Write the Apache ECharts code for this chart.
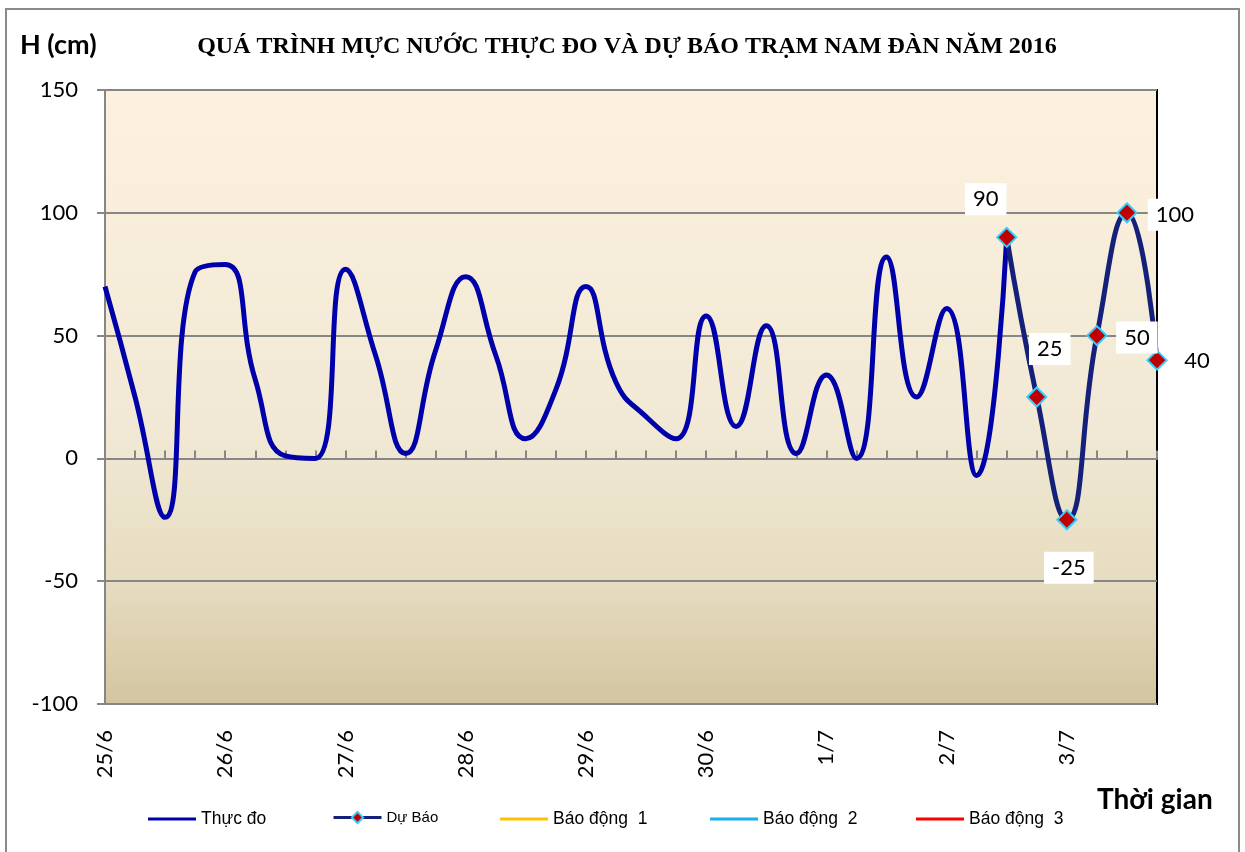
<!DOCTYPE html>
<html>
<head>
<meta charset="utf-8">
<script src="https://cdn.jsdelivr.net/npm/echarts@6/dist/echarts.min.js"></script>
<style>
html,body{margin:0;padding:0;background:#fff;}
#chart{width:1245px;height:852px;}
</style>
</head>
<body>
<div id="chart"></div>
<script>
// ---- data ----
const days = ['25/6','26/6','27/6','28/6','29/6','30/6','1/7','2/7','3/7'];
const hours = ['0h','6h','12h','18h'];
const observed = [70,25,-24,76,79,32,1,0,77,42,2,44,74,42,8,28,70,31,17,8,58,13,54,2,34,0,82,25,61,-7,90];
const forecastStart = 30;
const forecast = [90,25,-25,50,100,40];
const alarm1 = [];
const alarm2 = [];
const alarm3 = [];
const forecastLabelOffsets = [[-21,-38],[13,-48],[2,48],[40,2],[48,2],[40,1]];

const title = 'QUÁ TRÌNH MỰC NƯỚC THỰC ĐO VÀ DỰ BÁO TRẠM NAM ĐÀN NĂM 2016';
const yName = 'H (cm)';
const xName = 'Thời gian';
const seriesNames = ['Thực đo','Dự Báo','Báo động  1','Báo động  2','Báo động  3'];

// ---- build ----
const categories = [];
days.forEach(d => hours.forEach(h => categories.push(d + ' ' + h)));

const obsData = categories.map((c, i) => i < observed.length ? observed[i] : '-');
const fcData = categories.map((c, i) => {
  const k = i - forecastStart;
  if (k < 0 || k >= forecast.length) return '-';
  return { value: forecast[k], label: { offset: forecastLabelOffsets[k] } };
});

const chart = echarts.init(document.getElementById('chart'));
const labelFont = 'Lato, "Open Sans", sans-serif';
const lineIcon = 'path://M0,0H48V3H0Z';
const legendLefts = [143, 327, 495, 705, 911];
const legendFontSizes = [17.5, 15, 17.5, 17.5, 17.5];

const legends = seriesNames.map((n, i) => ({
  left: legendLefts[i], top: 805,
  itemWidth: 48, itemHeight: 14,
  textStyle: { fontFamily: '"Liberation Sans", Arial, sans-serif', fontSize: legendFontSizes[i], color: '#000' },
  data: i === 1
    ? [{ name: n, lineStyle: { width: 3 }, textStyle: { padding: [4, 0, 0, 0] } }]
    : [{ name: n, icon: lineIcon }]
}));

chart.setOption({
  animation: false,
  backgroundColor: '#fff',
  title: [{
    text: title,
    left: 622, top: 30, textAlign: 'center',
    textStyle: { fontFamily: '"Liberation Serif", "Times New Roman", serif', fontWeight: 'bold', fontSize: 24, color: '#000' }
  }],
  graphic: [
    { type: 'rect', shape: { x: 6, y: 9, width: 1233, height: 900 }, style: { fill: 'none', stroke: '#8a8a8a', lineWidth: 2 }, z: 100 },
    { type: 'text', left: 20, top: 32, style: { text: yName, font: 'bold 27px Lato, "Open Sans", sans-serif', fill: '#000' } },
    { type: 'text', left: 1097, top: 786, style: { text: xName, font: 'bold 28px Lato, "Open Sans", sans-serif', fill: '#000' } }
  ],
  grid: {
    left: 105, right: 88, top: 90, bottom: 148,
    show: true,
    borderColor: '#000', borderWidth: 2,
    backgroundColor: new echarts.graphic.LinearGradient(0, 0, 0, 1, [
      { offset: 0, color: '#FCF1DE' },
      { offset: 0.55, color: '#F1E9D5' },
      { offset: 0.8, color: '#E6DCC0' },
      { offset: 1, color: '#D3C5A1' }
    ])
  },
  legend: legends,
  xAxis: {
    type: 'category',
    data: categories,
    boundaryGap: false,
    axisLine: { show: true, lineStyle: { color: '#868686', width: 2 } },
    axisTick: { show: true, inside: true, length: 8, interval: 0, lineStyle: { color: '#868686', width: 2 } },
    axisLabel: {
      interval: 3, rotate: 90, margin: 26,
      fontFamily: labelFont, fontSize: 22, color: '#000',
      formatter: v => v.split(' ')[0]
    },
    splitLine: { show: false }
  },
  yAxis: {
    type: 'value',
    min: -100, max: 150, interval: 50,
    axisLine: { show: true, lineStyle: { color: '#868686', width: 2 } },
    axisTick: { show: true, inside: false, length: 8, lineStyle: { color: '#868686', width: 2 } },
    axisLabel: { margin: 27, fontFamily: labelFont, fontSize: 22, color: '#000' },
    splitLine: { show: true, lineStyle: { color: '#868686', width: 2 } }
  },
  series: [
    {
      name: seriesNames[0], type: 'line', data: obsData,
      smooth: 0.5, symbol: 'none', z: 3,
      lineStyle: { color: '#0000AA', width: 5 },
      itemStyle: { color: '#0000AA' }
    },
    {
      name: seriesNames[1], type: 'line', data: fcData,
      smooth: 0.5, symbol: 'diamond', symbolSize: 19, z: 4,
      lineStyle: { color: '#15207A', width: 5 },
      itemStyle: { color: '#C00000', borderColor: '#33CCFF', borderWidth: 2 },
      label: {
        show: true, position: 'inside',
        fontFamily: labelFont, fontSize: 22, color: '#000',
        backgroundColor: '#fff', padding: [6, 8, 4, 8]
      }
    },
    { name: seriesNames[2], type: 'line', data: alarm1, symbol: 'none', lineStyle: { color: '#FFC000', width: 3 }, itemStyle: { color: '#FFC000' } },
    { name: seriesNames[3], type: 'line', data: alarm2, symbol: 'none', lineStyle: { color: '#1AB0F0', width: 3 }, itemStyle: { color: '#1AB0F0' } },
    { name: seriesNames[4], type: 'line', data: alarm3, symbol: 'none', lineStyle: { color: '#FF0000', width: 3 }, itemStyle: { color: '#FF0000' } }
  ]
});
</script>
</body>
</html>
